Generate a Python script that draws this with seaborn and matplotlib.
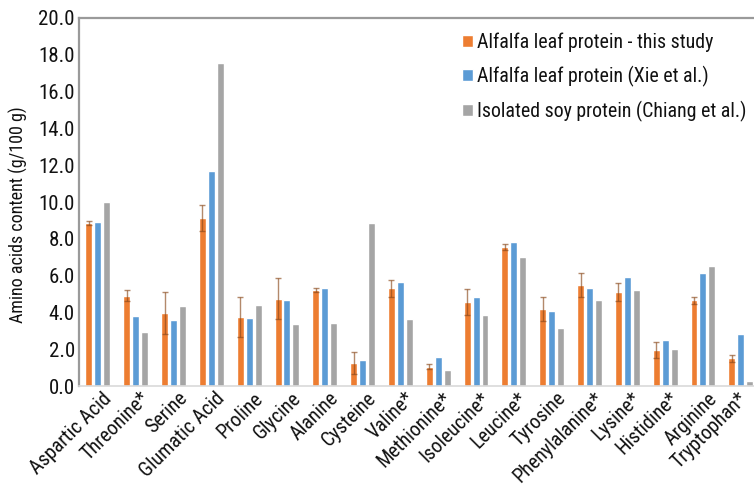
import numpy as np
import pandas as pd
import matplotlib
matplotlib.use("Agg")
import matplotlib.pyplot as plt
import seaborn as sns
from matplotlib import transforms

# Amino acid composition (g/100 g protein)
amino_acids = [
    "Aspartic Acid", "Threonine*", "Serine", "Glumatic Acid", "Proline",
    "Glycine", "Alanine", "Cysteine", "Valine*", "Methionine*",
    "Isoleucine*", "Leucine*", "Tyrosine", "Phenylalanine*", "Lysine*",
    "Histidine*", "Arginine", "Tryptophan*",
]
this_study = [8.85, 4.90, 3.95, 9.15, 3.75, 4.75, 5.20, 1.25, 5.30, 1.05,
              4.55, 7.55, 4.20, 5.50, 5.10, 1.95, 4.65, 1.50]
this_study_sd = [0.10, 0.30, 1.15, 0.70, 1.10, 1.10, 0.10, 0.60, 0.45, 0.12,
                 0.70, 0.15, 0.65, 0.65, 0.50, 0.45, 0.20, 0.20]
xie_et_al = [8.90, 3.80, 3.60, 11.70, 3.70, 4.70, 5.35, 1.40, 5.65, 1.55,
             4.85, 7.85, 4.05, 5.30, 5.90, 2.50, 6.15, 2.80]
chiang_et_al = [10.00, 2.95, 4.35, 17.55, 4.40, 3.35, 3.45, 8.85, 3.65, 0.88,
                3.85, 7.00, 3.15, 4.65, 5.20, 2.00, 6.50, 0.25]

series_names = [
    "Alfalfa leaf protein - this study",
    "Alfalfa leaf protein (Xie et al.)",
    "Isolated soy protein (Chiang et al.)",
]
series_colors = ["#ED7D31", "#5B9BD5", "#A5A5A5"]
y_ticks = [0, 2, 4, 6, 8, 10, 12, 14, 16, 18, 20]

sns.set_theme(style="white")
plt.rcParams["font.family"] = ["Roboto Condensed", "DejaVu Sans"]
plt.rcParams["font.stretch"] = "condensed"

df = pd.DataFrame({
    "amino_acid": amino_acids * 3,
    "value": this_study + xie_et_al + chiang_et_al,
    "source": np.repeat(series_names, len(amino_acids)),
})

W, H = 754, 487
fig = plt.figure(figsize=(W / 100, H / 100), dpi=100)
ax = fig.add_axes([79 / W, 101 / H, 675 / W, 368 / H])

sns.barplot(
    data=df, x="amino_acid", y="value", hue="source",
    order=amino_acids, hue_order=series_names,
    palette=series_colors, saturation=1,
    width=0.71, gap=0.22, errorbar=None, ax=ax,
)

# error bars on this study's values
bars = ax.containers[0]
xs = [p.get_x() + p.get_width() / 2 for p in bars]
ax.errorbar(xs, this_study, yerr=this_study_sd, fmt="none",
            ecolor="#8b4a1c", elinewidth=1, capsize=2.5, capthick=1,
            alpha=0.65, zorder=5)

ax.set_xlim(-0.5, 17.35)
ax.set_ylim(0, 20)
ax.set_yticks(y_ticks)
ax.set_yticklabels([f"{v:.1f}" for v in y_ticks], fontsize=15, color="#111111")
ax.set_xlabel("")
ax.set_ylabel("Amino acids content (g/100 g)", fontsize=13, color="#111111")
ax.yaxis.set_label_coords(-0.075, 0.465)
ax.tick_params(axis="y", length=0, pad=3)
ax.tick_params(axis="x", length=0, pad=2)

# rotated category labels, nudged right of their ticks; the last one is kept
# inside the figure edge
ax.set_xticks(range(len(amino_acids)))
ax.set_xticklabels(amino_acids, rotation=45, ha="right",
                   rotation_mode="anchor", fontsize=14.5, color="#111111")
labels = ax.get_xticklabels()
for i, lbl in enumerate(labels):
    dx = 4 if i < len(labels) - 1 else -3
    shift = transforms.ScaledTranslation(dx / 100, 0, fig.dpi_scale_trans)
    lbl.set_transform(lbl.get_transform() + shift)

for side in ("left", "top"):
    ax.spines[side].set_color("#9a9a9a")
    ax.spines[side].set_linewidth(1.6)
ax.spines["bottom"].set_color("#d9d9d9")
ax.spines["bottom"].set_linewidth(1.2)
ax.spines["right"].set_visible(False)

leg = ax.legend(
    loc="upper left", bbox_to_anchor=((462 - 79) / 675, (386 - 33) / 368),
    frameon=False, fontsize=14.3, borderpad=0, borderaxespad=0,
    handlelength=0.55, handleheight=0.55, handletextpad=0.2,
    labelspacing=0.68, title=None,
)
for t in leg.get_texts():
    t.set_color("#111111")

fig.savefig("out.png", dpi=100)
